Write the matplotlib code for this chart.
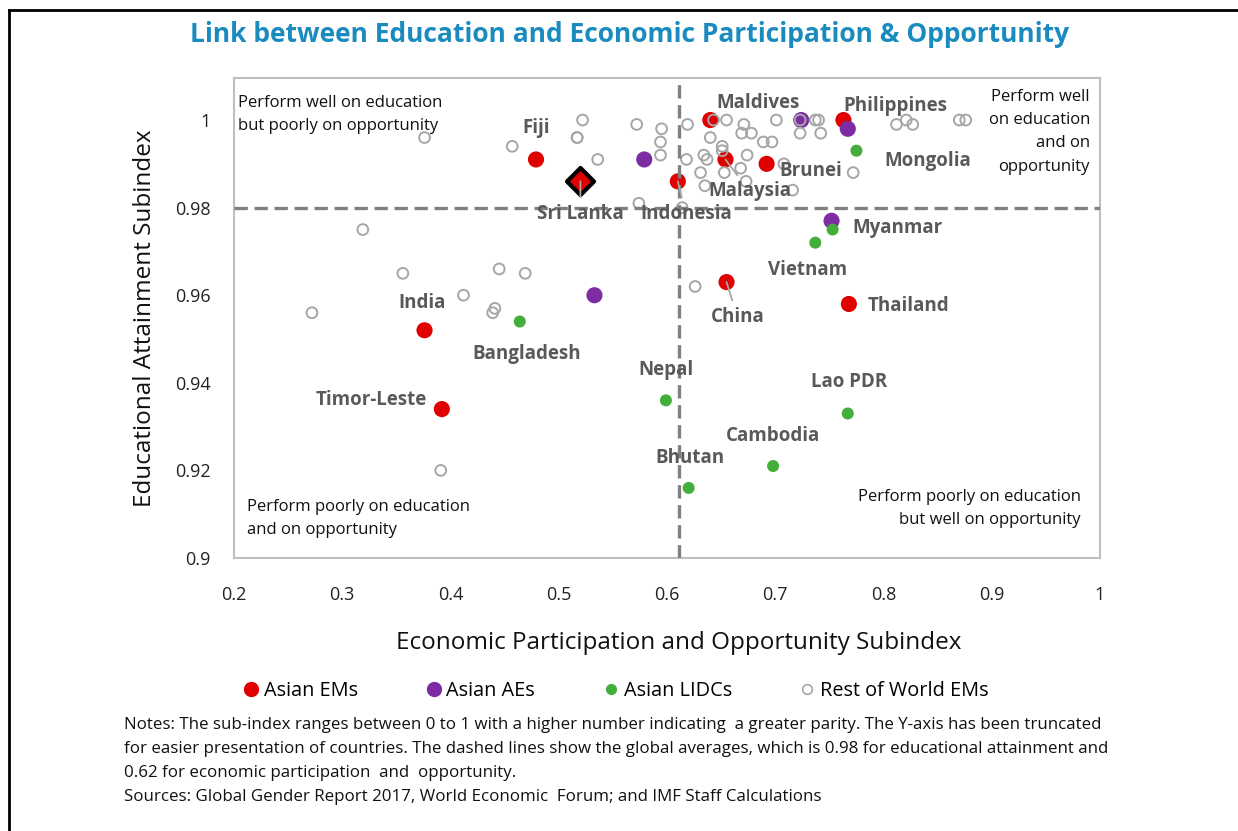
import matplotlib
matplotlib.use("Agg")
import matplotlib.pyplot as plt
from matplotlib.lines import Line2D

plt.rcParams['font.family'] = ['Open Sans', 'DejaVu Sans']

# Asian emerging markets (labelled)
em_names = ["Fiji", "Sri Lanka", "Indonesia", "Maldives", "Malaysia", "Brunei",
            "Philippines", "China", "Thailand", "India", "Timor-Leste"]
em_x = [0.479, 0.520, 0.610, 0.640, 0.654, 0.692, 0.763, 0.655, 0.768, 0.376, 0.392]
em_y = [0.991, 0.986, 0.986, 1.000, 0.991, 0.990, 1.000, 0.963, 0.958, 0.952, 0.934]

# Asian advanced economies (not labelled)
ae_x = [0.579, 0.724, 0.767, 0.752, 0.533]
ae_y = [0.991, 1.000, 0.998, 0.977, 0.960]

# Asian low income developing countries
lidc_names = ["Mongolia", "Myanmar", "Vietnam", "Bangladesh", "Nepal",
              "Lao PDR", "Cambodia", "Bhutan"]
lidc_x = [0.775, 0.753, 0.737, 0.464, 0.599, 0.767, 0.698, 0.620]
lidc_y = [0.993, 0.975, 0.972, 0.954, 0.936, 0.933, 0.921, 0.916]

# rest of world EMs
row_x = [0.376, 0.457, 0.522, 0.517, 0.517, 0.536, 0.572, 0.595, 0.594, 0.594,
         0.574, 0.614, 0.619, 0.643, 0.655, 0.671, 0.669, 0.678, 0.689, 0.697,
         0.640, 0.651, 0.651, 0.674, 0.634, 0.637, 0.618, 0.631, 0.653, 0.668,
         0.635, 0.673, 0.701, 0.723, 0.737, 0.740, 0.723, 0.742, 0.708, 0.772,
         0.716, 0.812, 0.821, 0.827, 0.870, 0.876, 0.319, 0.356, 0.445, 0.469,
         0.412, 0.441, 0.439, 0.272, 0.626, 0.391]
row_y = [0.996, 0.994, 1.000, 0.996, 0.996, 0.991, 0.999, 0.998, 0.995, 0.992,
         0.981, 0.980, 0.999, 1.000, 1.000, 0.999, 0.997, 0.997, 0.995, 0.995,
         0.996, 0.994, 0.993, 0.992, 0.992, 0.991, 0.991, 0.988, 0.988, 0.989,
         0.985, 0.986, 1.000, 1.000, 1.000, 1.000, 0.997, 0.997, 0.990, 0.988,
         0.984, 0.999, 1.000, 0.999, 1.000, 1.000, 0.975, 0.965, 0.966, 0.965,
         0.960, 0.957, 0.956, 0.956, 0.962, 0.920]

avg_edu = 0.980
avg_opp = 0.611

RED = "#E00000"
PURPLE = "#7E2CA3"
GREEN = "#43AE3A"
GREY = "#A6A6A6"
LABEL = "#595959"

fig = plt.figure(figsize=(12.38, 8.31), dpi=100)
ax = fig.add_axes([234/1238, 1 - 558/831, 866/1238, 480/831])

# label offsets in pixels (dx, dy) and which ones get a leader line
offsets = {
    "Fiji": (0, 31), "Sri Lanka": (0, -33), "Indonesia": (8, -33),
    "Maldives": (48, 17), "Malaysia": (24, -32), "Brunei": (44, -7),
    "Philippines": (52, 14), "China": (11, -35), "Thailand": (60, -2),
    "India": (-2, 27), "Timor-Leste": (-71, 9),
    "Mongolia": (71, -10), "Myanmar": (65, 2), "Vietnam": (-8, -27),
    "Bangladesh": (7, -32), "Nepal": (0, 30), "Lao PDR": (1, 31),
    "Cambodia": (0, 30), "Bhutan": (1, 30),
}
leaders = ["Sri Lanka", "Indonesia", "Malaysia", "China"]

# points
em_cx = [x for n, x in zip(em_names, em_x) if n != "Sri Lanka"]
em_cy = [y for n, y in zip(em_names, em_y) if n != "Sri Lanka"]
ax.scatter(em_cx, em_cy, s=135, color=RED, edgecolors="none", zorder=3)
i = em_names.index("Sri Lanka")
ax.scatter([em_x[i]], [em_y[i]], s=190, marker="D", color=RED,
           edgecolors="black", linewidths=3, zorder=3)
ax.scatter(ae_x, ae_y, s=135, color=PURPLE, edgecolors="none", zorder=3)
ax.scatter(lidc_x, lidc_y, s=75, color=GREEN, edgecolors="none", zorder=3)
ax.scatter(row_x, row_y, s=60, facecolors="none", edgecolors=GREY,
           linewidths=1.4, zorder=4)

# global averages
ax.axhline(avg_edu, color="#808080", lw=2.4, ls=(0, (4, 2)), zorder=5)
ax.axvline(avg_opp, color="#808080", lw=2.4, ls=(0, (4, 2)), zorder=5)

# country labels
for names, xs, ys in [(em_names, em_x, em_y), (lidc_names, lidc_x, lidc_y)]:
    for n, x, y in zip(names, xs, ys):
        kw = {}
        if n in leaders:
            kw["arrowprops"] = dict(arrowstyle="-", color=GREY, lw=1.3,
                                    shrinkA=3, shrinkB=0)
        ax.annotate(n, (x, y), xytext=offsets[n], textcoords="offset pixels",
                    ha="center", va="center", fontsize=13.5, fontweight="bold",
                    color=LABEL, zorder=6, **kw)

# quadrant notes
qkw = dict(transform=ax.transAxes, fontsize=12, color="#111111", linespacing=1.6)
ax.text(4/866, 1 - 17/480, "Perform well on education\nbut poorly on opportunity",
        ha="left", va="top", **qkw)
ax.text(856/866, 1 - 11/480, "Perform well\non education\nand on\nopportunity",
        ha="right", va="top", **qkw)
ax.text(13/866, 1 - 421/480, "Perform poorly on education\nand on opportunity",
        ha="left", va="top", **qkw)
ax.text(847/866, 1 - 411/480, "Perform poorly on education\nbut well on opportunity",
        ha="right", va="top", **qkw)

ax.set_xlim(0.2, 1.0)
ax.set_ylim(0.9, 1.0096)
ax.set_xticks([0.2, 0.3, 0.4, 0.5, 0.6, 0.7, 0.8, 0.9, 1.0])
ax.set_xticklabels(["0.2", "0.3", "0.4", "0.5", "0.6", "0.7", "0.8", "0.9", "1"])
ax.set_yticks([0.9, 0.92, 0.94, 0.96, 0.98, 1.0])
ax.set_yticklabels(["0.9", "0.92", "0.94", "0.96", "0.98", "1"])
ax.tick_params(axis="both", length=0, labelsize=13, colors="#222222")
ax.tick_params(axis="x", pad=20)
ax.tick_params(axis="y", pad=17)
for sp in ax.spines.values():
    sp.set_color("#BFBFBF")
    sp.set_linewidth(1.5)

ax.set_xlabel("Economic Participation and Opportunity Subindex", fontsize=17.5,
              color="#111111")
ax.xaxis.set_label_coords(0.514, -0.152)
ax.set_ylabel("Educational Attainment Subindex", fontsize=17.5, color="#111111")
ax.yaxis.set_label_coords(-0.089, 0.5)

fig.text(630/1238, 1 - 35/831,
         "Link between Education and Economic Participation & Opportunity",
         ha="center", va="center", fontsize=19, fontweight="bold", color="#1A8BBE")

handles = [
    Line2D([], [], ls="none", marker="o", ms=10, color=RED),
    Line2D([], [], ls="none", marker="o", ms=10, color=PURPLE),
    Line2D([], [], ls="none", marker="o", ms=7, color=GREEN),
    Line2D([], [], ls="none", marker="o", ms=7, mfc="none", mec=GREY, mew=1.2),
]
fig.legend(handles, ["Asian EMs", "Asian AEs", "Asian LIDCs", "Rest of World EMs"],
           loc="center", bbox_to_anchor=(615/1238, 1 - 691/831), ncol=4,
           frameon=False, fontsize=14.3, handletextpad=0.15, columnspacing=3.3,
           handlelength=1.0)

notes = ("Notes: The sub-index ranges between 0 to 1 with a higher number indicating  a greater parity. The Y-axis has been truncated\n"
         "for easier presentation of countries. The dashed lines show the global averages, which is 0.98 for educational attainment and\n"
         "0.62 for economic participation  and  opportunity.\n"
         "Sources: Global Gender Report 2017, World Economic  Forum; and IMF Staff Calculations")
fig.text(124/1238, 1 - 717/831, notes, ha="left", va="top", fontsize=12.2,
         color="#111111", linespacing=1.68)

# frame lines on the left and top of the figure
fig.add_artist(Line2D([9/1238, 9/1238], [0, 1 - 10/831], transform=fig.transFigure,
                      color="black", lw=2))
fig.add_artist(Line2D([9/1238, 1], [1 - 10/831, 1 - 10/831], transform=fig.transFigure,
                      color="black", lw=2))

fig.savefig("out.png", dpi=100)
